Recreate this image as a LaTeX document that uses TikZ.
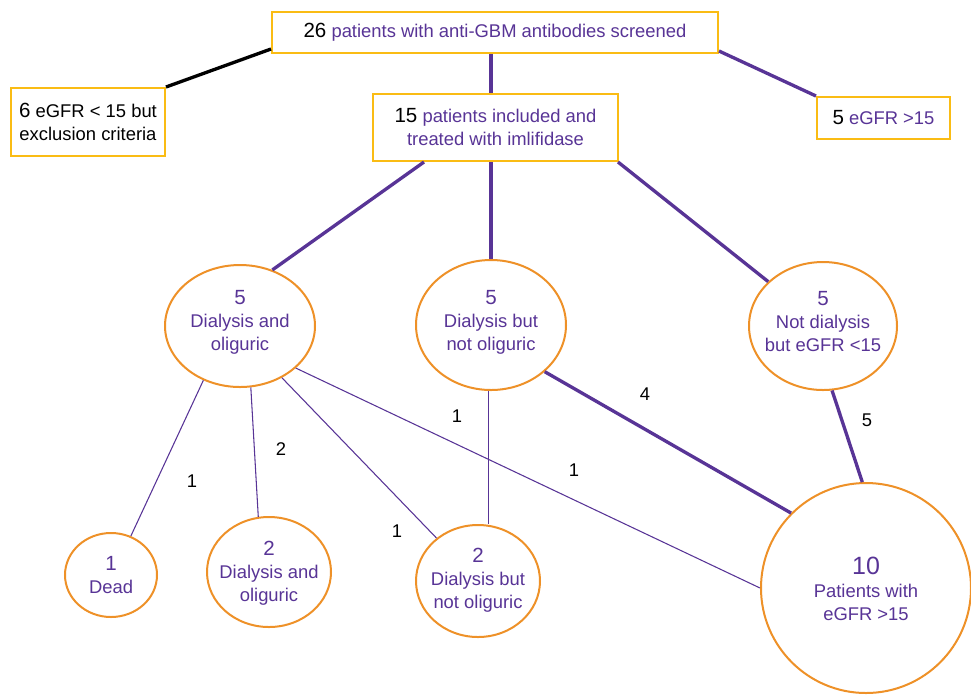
\documentclass[tikz,border=0pt]{standalone}
\usepackage{fontspec}
\setmainfont{Liberation Sans}
\usetikzlibrary{shapes.geometric,calc}
\definecolor{pur}{RGB}{88,52,150}
\definecolor{boxy}{RGB}{250,188,20}
\definecolor{orng}{RGB}{238,145,40}
\newcommand{\nm}[1]{{\fontsize{15.4}{17}\selectfont #1}}
\begin{document}
\begin{tikzpicture}[x=0.75pt,y=-0.75pt,
 box/.style={draw=boxy,line width=1.5pt,inner sep=0pt,font=\fontsize{13.8}{17.25}\selectfont,align=center,fill=white},
 ell/.style={ellipse,draw=orng,line width=1.5pt,inner sep=0pt,fill=white},
 etxt/.style={text=pur,font=\fontsize{13.8}{17.25}\selectfont,align=center,inner sep=0pt},
 thickline/.style={draw=pur,line width=2.5pt},
 thinline/.style={draw=pur,line width=0.8pt},
 lab/.style={font=\fontsize{13.8}{16}\selectfont,text=black,inner sep=0pt}]
\useasboundingbox (0,0) rectangle (971,694);

% boxes
\node[box,minimum width=334.5pt,minimum height=30.75pt] (b1) at (495,32.5)
  {\nm{26} \textcolor{pur}{patients with anti-GBM antibodies screened}};
\node[box,minimum width=115.5pt,minimum height=51pt] (b0) at (88,122)
  {\nm{6} eGFR < 15 but\\exclusion criteria};
\node[box,minimum width=183.75pt,minimum height=50.25pt] (b2) at (495.5,127.5)
  {\nm{15} \textcolor{pur}{patients included and}\\\textcolor{pur}{treated with imlifidase}};
\node[box,minimum width=99.75pt,minimum height=31.5pt] (b3) at (883.5,118)
  {\nm{5} \textcolor{pur}{eGFR >15}};

% ellipses
\node[ell,minimum width=112.5pt,minimum height=91.5pt] (e1) at (240,326) {};
\node[ell,minimum width=112.5pt,minimum height=97.5pt] (e2) at (491,325) {};
\node[ell,minimum width=111pt,minimum height=96pt] (e3) at (823,326) {};
\node[ell,minimum width=69pt,minimum height=63pt] (d1) at (111,575) {};
\node[ell,minimum width=93pt,minimum height=82.5pt] (d2) at (269,572) {};
\node[ell,minimum width=93pt,minimum height=84pt] (d3) at (478,581) {};
\node[circle,draw=orng,line width=1.5pt,fill=white,minimum size=157.5pt,inner sep=0pt] (big) at (866,588) {};

\node[etxt] (e1t) at (240,322) {\nm{5}\\Dialysis and\\oliguric};
\node[etxt] (e2t) at (491,322) {\nm{5}\\Dialysis but\\not oliguric};
\node[etxt] (e3t) at (823,322) {\nm{5}\\Not dialysis\\but eGFR <15};
\node[etxt] (d1t) at (111,575) {\nm{1}\\Dead};
\node[etxt] (d2t) at (269,573) {\nm{2}\\Dialysis and\\oliguric};
\node[etxt] (d3t) at (478,580) {\nm{2}\\Dialysis but\\not oliguric};
\node[etxt] (bigt) at (866,589) {{\fontsize{18.75}{20}\selectfont 10}\\Patients with\\eGFR >15};

% connectors
\draw[line width=2.5pt,black] ($(b1.south west)+(0,-5)$) -- (b0.north east);
\draw[thickline] (b1.south -| e2.north) -- (b2.north -| e2.north);
\draw[thickline] ($(b1.south east)+(0,-3)$) -- (b3.north west);
\draw[thickline] ($(b2.south)+(-71.5,0)$) -- (e1.60);
\draw[thickline] (b2.south -| e2.north) -- (e2.north);
\draw[thickline] ($(b2.south east)+(-1,0)$) -- (e3.141);
\draw[thinline] (e1.236) -- (d1.63);
\draw[thinline] (e1.280) -- (d2.101);
\draw[thinline] (e1.309) -- (d3.134);
\draw[thinline] (e1.323) -- (big.west);
\draw[thinline,line width=0.5pt] ($(e2.south)+(-2.3,0)$) -- ($(e2.south |- d3.north)+(-2.3,0)$);
\draw[thickline] (e2.319) -- (big.135);
\draw[thickline] (e3.278) -- (big.92);

% labels
\node[lab] (l1) at (192,481) {1};
\node[lab] (l2) at (281,449) {2};
\node[lab] (l3) at (397,531) {1};
\node[lab] (l4) at (574,470) {1};
\node[lab] (l5) at (457,416) {1};
\node[lab] (l6) at (645,394) {4};
\node[lab] (l7) at (867,420) {5};
\end{tikzpicture}
\end{document}
